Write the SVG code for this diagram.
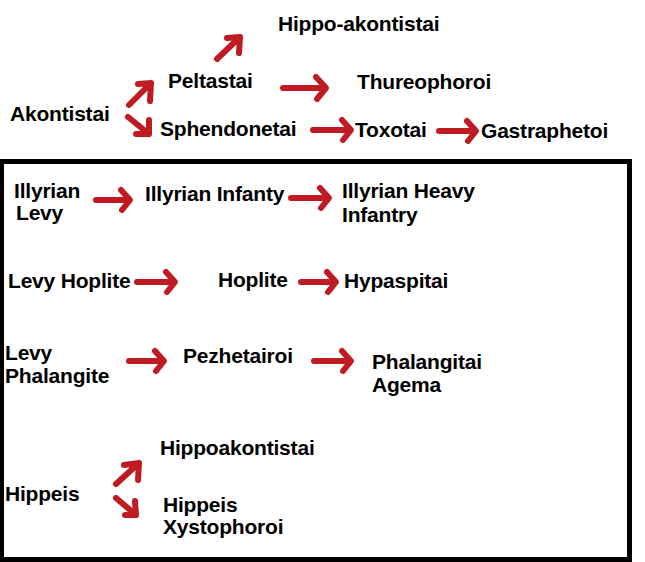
<svg xmlns="http://www.w3.org/2000/svg" width="645" height="562" viewBox="0 0 645 562">
<style>
.t{font-family:"Liberation Sans",Arial,sans-serif;font-weight:bold;font-size:21px;letter-spacing:-0.2px;fill:#000}
.a{fill:none;stroke:#bf1b22;stroke-width:6;stroke-linecap:round;stroke-linejoin:round}
</style>
<rect width="645" height="562" fill="#fff"/>
<g id="frame"><rect x="1.5" y="161.5" width="628" height="398" fill="none" stroke="#000" stroke-width="5"/></g>
<g id="n-akontistai"><text class="t" x="10" y="121">Akontistai</text></g>
<g id="n-peltastai"><text class="t" x="168" y="88">Peltastai</text></g>
<g id="n-hippo-akontistai"><text class="t" x="278" y="31">Hippo-akontistai</text></g>
<g id="n-thureophoroi"><text class="t" x="357" y="89">Thureophoroi</text></g>
<g id="n-sphendonetai"><text class="t" x="160" y="136">Sphendonetai</text></g>
<g id="n-toxotai"><text class="t" x="355" y="137">Toxotai</text></g>
<g id="n-gastraphetoi"><text class="t" x="481" y="138">Gastraphetoi</text></g>
<g id="n-illyrian-levy"><text class="t" x="14" y="198">Illyrian</text><text class="t" x="16" y="220">Levy</text></g>
<g id="n-illyrian-infanty"><text class="t" x="145" y="201">Illyrian Infanty</text></g>
<g id="n-illyrian-heavy"><text class="t" x="342" y="198">Illyrian Heavy</text><text class="t" x="342" y="222">Infantry</text></g>
<g id="n-levy-hoplite"><text class="t" x="8" y="288">Levy Hoplite</text></g>
<g id="n-hoplite"><text class="t" x="218" y="287">Hoplite</text></g>
<g id="n-hypaspitai"><text class="t" x="344" y="288">Hypaspitai</text></g>
<g id="n-levy-phalangite"><text class="t" x="5" y="360">Levy</text><text class="t" x="5" y="383">Phalangite</text></g>
<g id="n-pezhetairoi"><text class="t" x="183" y="363">Pezhetairoi</text></g>
<g id="n-phalangitai-agema"><text class="t" x="372" y="369">Phalangitai</text><text class="t" x="372" y="392">Agema</text></g>
<g id="n-hippoakontistai"><text class="t" x="160" y="455">Hippoakontistai</text></g>
<g id="n-hippeis"><text class="t" x="5" y="501">Hippeis</text></g>
<g id="n-hippeis-xystophoroi"><text class="t" x="163" y="512">Hippeis</text><text class="t" x="163" y="534">Xystophoroi</text></g>
<g id="connectors">
<path class="a" d="M129,105 L151,83 M138,84 L151,83 L150,101"/>
<path class="a" d="M128,117 L149,134 M136,134 L149,134 L149,120"/>
<path class="a" d="M217,59 L240,37 M227,38 L240,37 L239,53"/>
<path class="a" d="M283,88 L325,88 M316,77 L326,88 L317,99"/>
<path class="a" d="M313,130 L350,130 M342,120 L351,130 L343,140"/>
<path class="a" d="M439,131 L475,131 M467,121 L476,131 L468,141"/>
<path class="a" d="M96,200 L129,200 M121,190 L130,200 L122,210"/>
<path class="a" d="M291,198 L328,198 M320,188 L329,198 L321,208"/>
<path class="a" d="M137,282 L174,282 M166,272 L175,282 L167,292"/>
<path class="a" d="M301,282 L335,282 M327,272 L336,282 L328,292"/>
<path class="a" d="M129,361 L163,361 M155,351 L164,361 L156,371"/>
<path class="a" d="M314,361 L350,361 M342,351 L351,361 L343,371"/>
<path class="a" d="M116,484 L139,463 M124,465 L139,463 L138,480"/>
<path class="a" d="M116,498 L136,515 M125,515 L136,515 L135,501"/>
</g>
</svg>
